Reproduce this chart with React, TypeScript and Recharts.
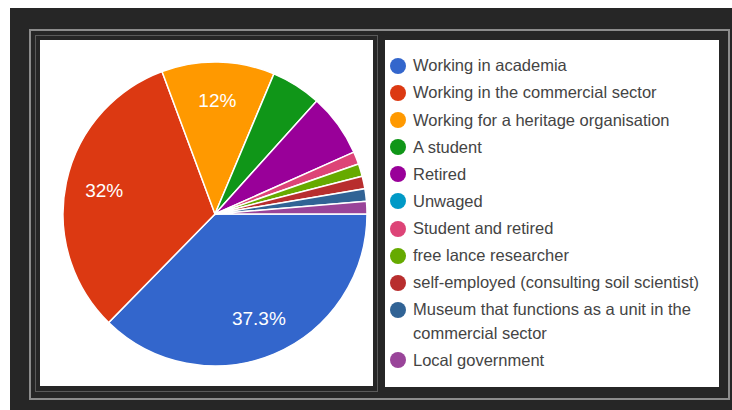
import React from "react";
import { PieChart, Pie, Cell } from "recharts";

const categories: string[] = [
  "Working in academia",
  "Working in the commercial sector",
  "Working for a heritage organisation",
  "A student",
  "Retired",
  "Unwaged",
  "Student and retired",
  "free lance researcher",
  "self-employed (consulting soil scientist)",
  "Museum that functions as a unit in the commercial sector",
  "Local government",
];

const counts: number[] = [28, 24, 9, 4, 5, 0, 1, 1, 1, 1, 1];

const colors: string[] = [
  "#3366cc",
  "#dc3912",
  "#ff9900",
  "#109618",
  "#990099",
  "#0099c6",
  "#dd4477",
  "#66aa00",
  "#b82e2e",
  "#316395",
  "#994499",
];

const RAD = Math.PI / 180;

const data = categories.map((name, i) => ({ name, value: counts[i], color: colors[i] }));
const pieData = data.filter((d) => d.value > 0);

const renderLabel = (props: any) => {
  const { cx, cy, midAngle, outerRadius, percent } = props;
  if (percent < 0.1) return null;
  const r = outerRadius * 0.745;
  const x = cx + r * Math.cos(-midAngle * RAD);
  const y = cy + r * Math.sin(-midAngle * RAD);
  const txt = (Math.round(percent * 1000) / 10).toString() + "%";
  return (
    <text
      x={x}
      y={y}
      fill="#ffffff"
      textAnchor="middle"
      dominantBaseline="central"
      style={{ fontFamily: "'Liberation Sans', Arial, sans-serif", fontSize: 19 }}
    >
      {txt}
    </text>
  );
};

export default function App() {
  return (
    <div
      style={{
        position: "fixed",
        left: 0,
        top: 0,
        width: 732,
        height: 410,
        background: "#ffffff",
        overflow: "hidden",
      }}
    >
      <div
        style={{
          position: "absolute",
          left: 10,
          top: 8,
          width: 722,
          height: 402,
          background: "#262626",
        }}
      />
      {/* outer frame line */}
      <div
        style={{
          position: "absolute",
          left: 29,
          top: 29,
          width: 697,
          height: 367,
          border: "2px solid #8c8c8c",
        }}
      />
      {/* pie panel inner frame */}
      <div
        style={{
          position: "absolute",
          left: 35,
          top: 35,
          width: 341,
          height: 355,
          border: "1px solid #5a5a5a",
        }}
      />
      <div
        style={{
          position: "absolute",
          left: 40,
          top: 40,
          width: 333,
          height: 346,
          background: "#ffffff",
        }}
      >
        <PieChart width={333} height={346} margin={{ top: 0, right: 0, bottom: 0, left: 0 }}>
          <Pie
            data={pieData}
            dataKey="value"
            nameKey="name"
            cx={175}
            cy={174}
            outerRadius={152}
            startAngle={0}
            endAngle={-360}
            stroke="#ffffff"
            strokeWidth={1.5}
            label={renderLabel}
            labelLine={false}
            isAnimationActive={false}
          >
            {pieData.map((d) => (
              <Cell key={d.name} fill={d.color} />
            ))}
          </Pie>
        </PieChart>
      </div>
      {/* legend panel */}
      <div
        style={{
          position: "absolute",
          left: 385,
          top: 40,
          width: 334,
          height: 347,
          background: "#ffffff",
          boxSizing: "border-box",
          paddingTop: 14.4,
          fontFamily: "'Liberation Sans', Arial, sans-serif",
          fontSize: 16.5,
          color: "#444444",
        }}
      >
        {data.map((d) => (
          <div
            key={d.name}
            style={{
              position: "relative",
              paddingLeft: 28,
              width: 300,
              lineHeight: "23.3px",
              marginBottom: 3.8,
              whiteSpace: "normal",
            }}
          >
            <span
              style={{
                position: "absolute",
                left: 5,
                top: 3.6,
                width: 16,
                height: 16,
                borderRadius: 8,
                background: d.color,
              }}
            />
            {d.name}
          </div>
        ))}
      </div>
    </div>
  );
}
